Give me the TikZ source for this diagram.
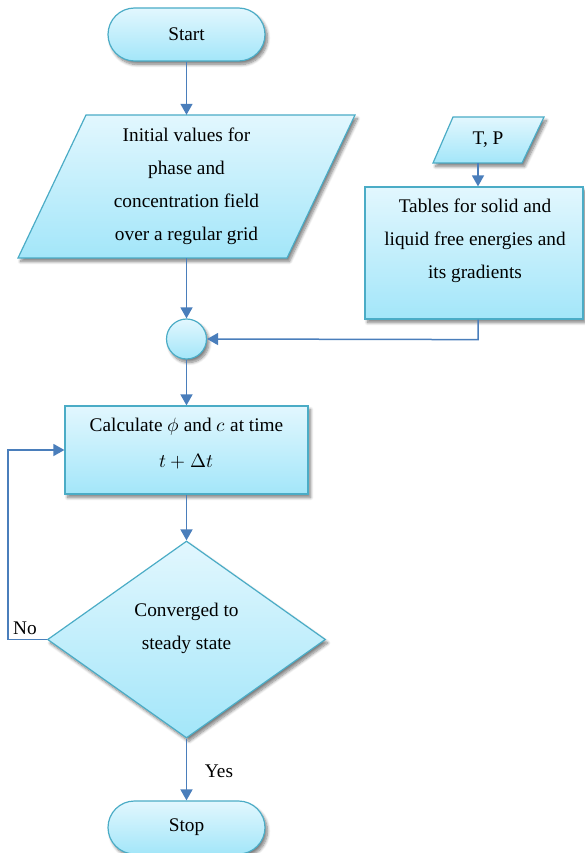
\documentclass[tikz,border=0pt]{standalone}
\usepackage{fontspec}
\usepackage{unicode-math}
\setmainfont{Liberation Serif}
\usetikzlibrary{arrows.meta,shapes.geometric,shadows.blur}
\definecolor{bord}{HTML}{4BACC6}
\definecolor{arr}{HTML}{4A7EBB}
\definecolor{ftop}{HTML}{E2F7FE}
\definecolor{fbot}{HTML}{A3E6F9}
\tikzset{
  box/.style={draw=bord, line width=1.2pt, top color=ftop, bottom color=fbot,
    blur shadow={shadow xshift=2.5pt, shadow yshift=-3.5pt, shadow blur steps=8, shadow blur radius=3pt, shadow opacity=50}},
  term/.style={box, rounded corners=26.5pt, minimum width=157pt, minimum height=53pt, inner sep=0pt},
  anchorbox/.style={inner sep=0pt, draw=none},
  txt/.style={align=center, inner sep=0pt},
  conn/.style={draw=arr, line width=1.5pt, -{Triangle[length=11pt,width=12pt]}},
  line/.style={draw=arr, line width=1.5pt}
}
\begin{document}
\begin{tikzpicture}[x=1pt, y=-1pt, font=\fontsize{19.3}{33}\selectfont]
\useasboundingbox (0,0) rectangle (584,853);

% Start
\node[term] (start) at (186.5,34.5) {Start};

% Initial values parallelogram
\path[box] (86,115) -- (355,115) -- (287,258) -- (18,258) -- cycle;
\node[anchorbox, minimum width=269pt, minimum height=143pt] (init) at (186.5,186.5) {};
\node[txt] (inittxt) at (186.5,186) {Initial values for\\phase and\\concentration field\\over a regular grid};

% T, P parallelogram
\path[box] (453,117) -- (544,117) -- (522,163) -- (433,163) -- cycle;
\node[anchorbox, minimum width=90pt, minimum height=46pt] (tp) at (488,140) {T, P};

% Tables box
\node[box, minimum width=218pt, minimum height=132pt, inner sep=0pt] (tab) at (474,253) {};
\node[txt] (tabtxt) at (475,240.5) {Tables for solid and\\liquid free energies and\\its gradients};

% junction circle
\node[box, circle, minimum size=40pt, inner sep=0pt] (j) at (186.5,339) {};

% Calculate box
\node[box, minimum width=243pt, minimum height=88pt, inner sep=0pt] (calc) at (186.5,450) {};
\node[txt] (calctxt) at (186.5,444) {Calculate $\phi$ and $c$ at time\\[3pt]$t+\Delta t$};

% Decision diamond
\node[box, diamond, aspect=1.411, minimum width=278pt, minimum height=197pt, inner sep=0pt] (conv) at (186.5,639.5) {};
\node[txt] (convtxt) at (186.5,628) {Converged to\\steady state};

% Stop
\node[term] (stop) at (186.5,827.5) {Stop};

% labels
\node[txt] (yes) at (219,771) {Yes};
\node[txt] (no) at (25,628) {No};

% connectors
\draw[conn] (start.south) -- (init.north);
\draw[conn] (init.south) -- (j.north);
\draw[conn] (j.south) -- (calc.north);
\draw[conn] (calc.south) -- (conv.north);
\draw[conn] (conv.south) -- (stop.north);
\draw[conn] ([xshift=-10pt]tp.south) -- ([xshift=-10pt]tp.south |- tab.north);
\draw[conn] ([xshift=4pt]tab.south) -- ++(0,20) -- (j.east);
\draw[conn] (conv.west) -- ++(-39,0) |- (calc.west);
\end{tikzpicture}
\end{document}
